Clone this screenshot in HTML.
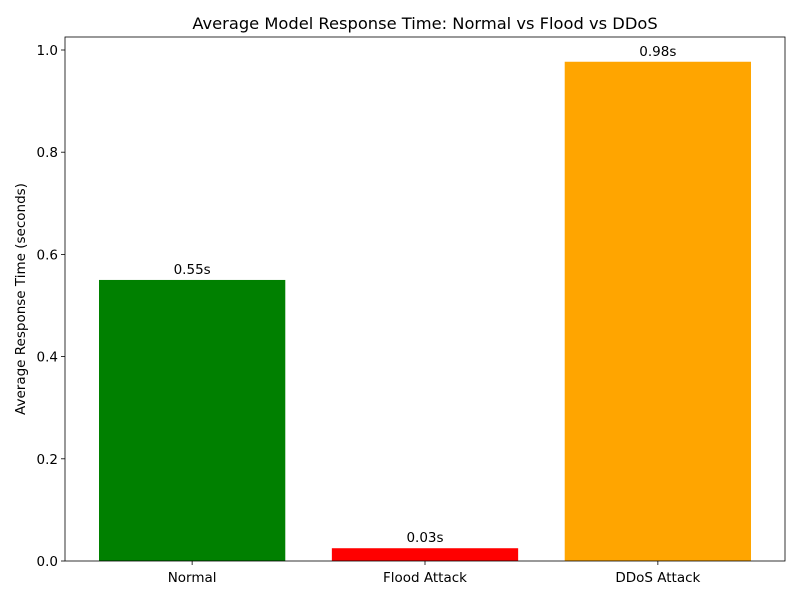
<!DOCTYPE html>
<html><head><meta charset="utf-8"><style>
body{margin:0;background:#fff;}
svg{font-family:"DejaVu Sans","Liberation Sans",sans-serif;}
</style></head><body>
<svg id="chart" width="800" height="600">
<rect width="800" height="600" fill="#fff"/>
<text x="425" y="29" text-anchor="middle" font-size="16.3">Average Model Response Time: Normal vs Flood vs DDoS</text>
<text transform="translate(25,299) rotate(-90)" text-anchor="middle" font-size="13.5">Average Response Time (seconds)</text>
<g id="bars"></g>
<g id="yticks"></g>
<g id="xticks"></g>
<rect x="65" y="37" width="720" height="524" fill="none" stroke="#000" stroke-width="0.8"/>
</svg>
<script>
const categories = ["Normal", "Flood Attack", "DDoS Attack"];
const values = [0.55, 0.025, 0.977];
const valueLabels = ["0.55s", "0.03s", "0.98s"];
const colors = ["green", "red", "orange"];
const yTicks = [0, 0.2, 0.4, 0.6, 0.8, 1.0];
const yTickLabels = ["0.0", "0.2", "0.4", "0.6", "0.8", "1.0"];

const NS = "http://www.w3.org/2000/svg";
const L = 65, R = 785, B = 561;
const yPx = v => B - v * 511;
const xMin = -0.546, xMax = 2.546;
const xPx = v => L + (v - xMin) / (xMax - xMin) * (R - L);
function mk(tag, attrs, parent) {
  const e = document.createElementNS(NS, tag);
  for (const k in attrs) e.setAttribute(k, attrs[k]);
  parent.appendChild(e);
  return e;
}
const bars = document.getElementById("bars");
const yt = document.getElementById("yticks");
const xt = document.getElementById("xticks");
categories.forEach((c, i) => {
  const x0 = xPx(i - 0.4), x1 = xPx(i + 0.4);
  const r = mk("rect", {x: x0, y: yPx(values[i]), width: x1 - x0, height: B - yPx(values[i]), fill: colors[i]}, bars);
  
  
  const t = mk("text", {x: xPx(i), y: yPx(values[i]) - 6, "text-anchor": "middle", "font-size": "13.5"}, bars);
  t.textContent = valueLabels[i];
  
  
  const tk = mk("line", {x1: xPx(i), x2: xPx(i), y1: B, y2: B + 4, stroke: "#000", "stroke-width": 0.8}, xt);
  
  
  const tl = mk("text", {x: xPx(i), y: B + 21, "text-anchor": "middle", "font-size": "13.5"}, xt);
  tl.textContent = c;
  
  
});
yTicks.forEach((v, i) => {
  const tk = mk("line", {x1: L - 4, x2: L, y1: yPx(v), y2: yPx(v), stroke: "#000", "stroke-width": 0.8}, yt);
  
  
  const tl = mk("text", {x: L - 7, y: yPx(v) + 5, "text-anchor": "end", "font-size": "13.5"}, yt);
  tl.textContent = yTickLabels[i];
  
  
});
</script>
</body></html>
